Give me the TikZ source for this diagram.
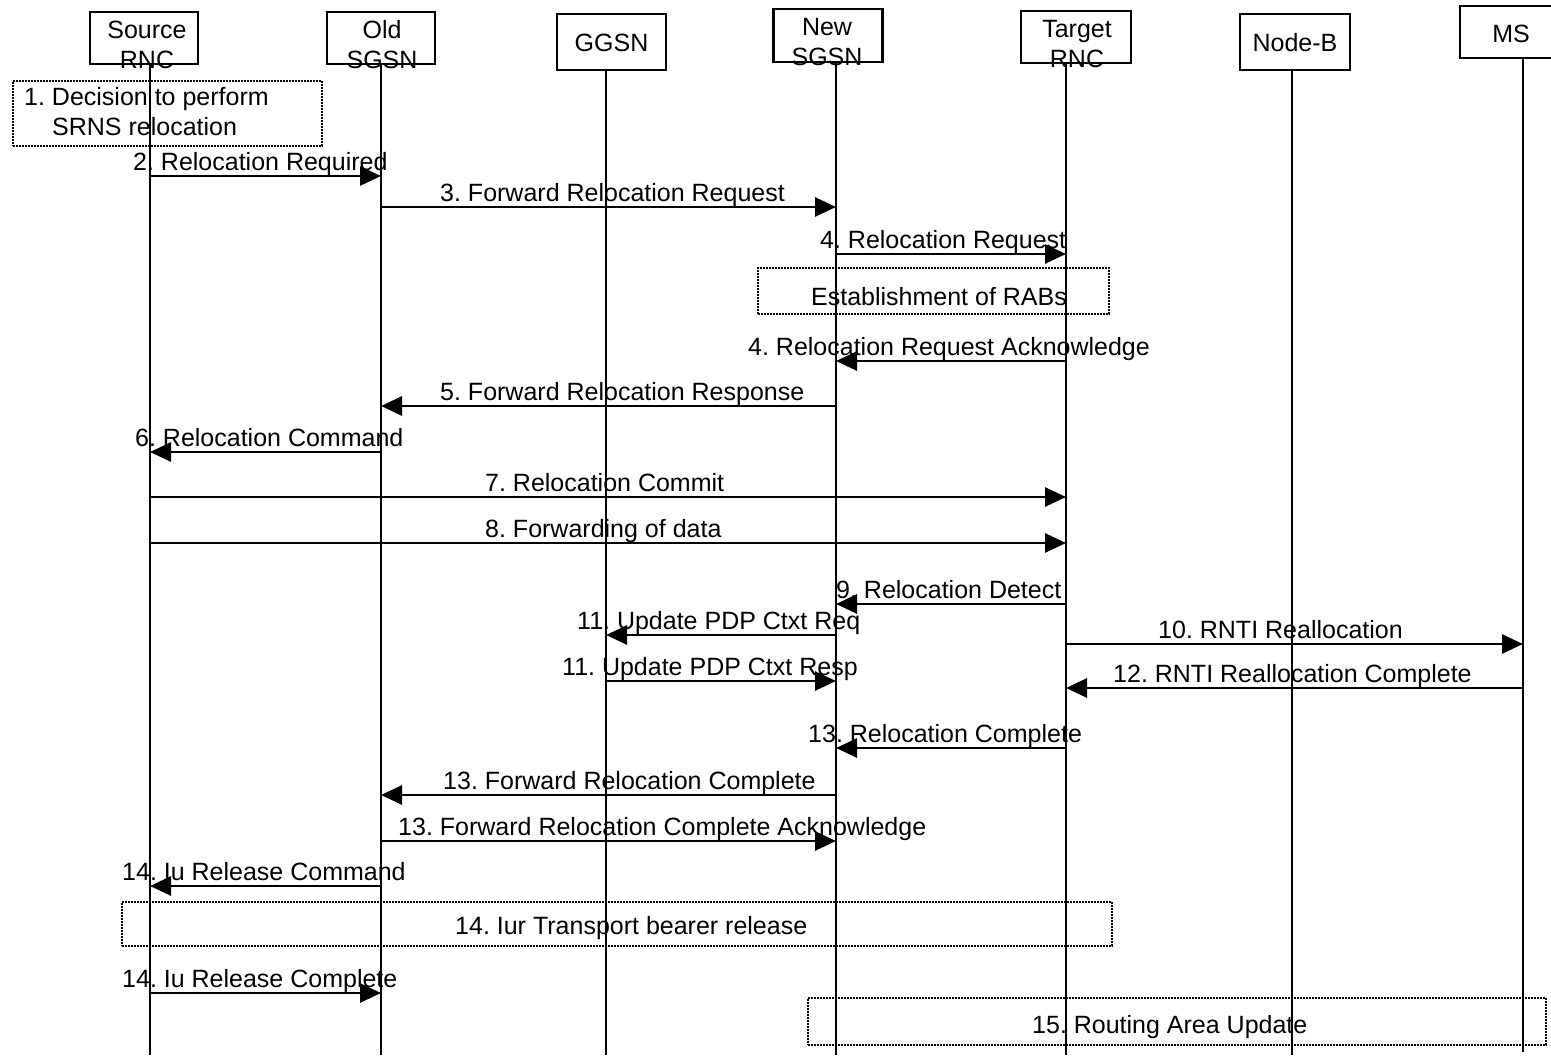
\documentclass[tikz,border=0pt]{standalone}
\usepackage{fontspec}
\setmainfont{Liberation Sans}
\usetikzlibrary{arrows.meta}
\frenchspacing
\begin{document}
\begin{tikzpicture}[x=1pt,y=-1pt,
  font=\fontsize{25}{30}\selectfont\frenchspacing,
  hdr/.style={draw, line width=2.6pt, inner sep=0pt},
  htxt/.style={anchor=base, inner sep=0pt},
  life/.style={line width=2.6pt},
  msg/.style={line width=2.8pt, -{Triangle[length=21pt,width=19pt]}},
  lbl/.style={anchor=base west, inner sep=0pt},
  note/.style={draw, line width=1.8pt, dash pattern=on 1.6pt off 1.4pt, inner sep=0pt}]
\useasboundingbox (0,0) rectangle (1551,1060);

% lifeline x positions
\coordinate (Lsrc) at (150,0);
\coordinate (Lold) at (381,0);
\coordinate (Lggsn) at (606,0);
\coordinate (Lnew) at (836,0);
\coordinate (Ltgt) at (1066,0);
\coordinate (Lnb) at (1292,0);
\coordinate (Lms) at (1523,0);
\coordinate (bot) at (0,1055);

% header boxes
\node[hdr, minimum width=108pt, minimum height=52pt] (src) at (144,38) {};
\node[htxt] (srcA) at (147,38) {Source};
\node[htxt] (srcB) at (147,68) {RNC};
\node[hdr, minimum width=108pt, minimum height=52pt] (old) at (381,38) {};
\node[htxt] (oldA) at (382,38) {Old};
\node[htxt] (oldB) at (382,68) {SGSN};
\node[hdr, minimum width=109pt, minimum height=56pt] (ggsn) at (611.5,42) {};
\node[htxt] (ggsnA) at (611.5,51) {GGSN};
\node[hdr, minimum width=109pt, minimum height=53pt] (new) at (828,35.5) {};
\node[htxt] (newA) at (827,35) {New};
\node[htxt] (newB) at (827,65) {SGSN};
\node[hdr, minimum width=110pt, minimum height=52pt] (tgt) at (1076,37) {};
\node[htxt] (tgtA) at (1077,37) {Target};
\node[htxt] (tgtB) at (1077,67) {RNC};
\node[hdr, minimum width=110pt, minimum height=56pt] (nb) at (1295,42) {};
\node[htxt] (nbA) at (1295,51) {Node-B};
\node[hdr, minimum width=110pt, minimum height=52pt] (ms) at (1515,32) {};
\node[htxt] (msA) at (1511,42) {MS};

% lifelines
\draw[life] (Lsrc |- src.south) -- (Lsrc |- bot);
\draw[life] (Lold |- old.south) -- (Lold |- bot);
\draw[life] (Lggsn |- ggsn.south) -- (Lggsn |- bot);
\draw[life] (Lnew |- new.south) -- (Lnew |- bot);
\draw[life] (Ltgt |- tgt.south) -- (Ltgt |- bot);
\draw[life] (Lnb |- nb.south) -- (Lnb |- bot);
\draw[life] (Lms |- ms.south) -- (Lms |- {(0,1052)});

% 1. decision box
\node[note, minimum width=309pt, minimum height=65pt] (n1) at (167.5,113.5) {};
\node[lbl] (n1a) at (24,105) {1. Decision to perform};
\node[lbl] (n1b) at (52,135) {SRNS relocation};

% message rows
\coordinate (r2) at (0,176);
\coordinate (r3) at (0,207);
\coordinate (r4) at (0,254);
\coordinate (r4a) at (0,361);
\coordinate (r5) at (0,406);
\coordinate (r6) at (0,452);
\coordinate (r7) at (0,497);
\coordinate (r8) at (0,543);
\coordinate (r9) at (0,604);
\coordinate (r11a) at (0,635);
\coordinate (r10) at (0,644);
\coordinate (r11b) at (0,681);
\coordinate (r12) at (0,688);
\coordinate (r13a) at (0,748);
\coordinate (r13b) at (0,795);
\coordinate (r13c) at (0,841);
\coordinate (r14a) at (0,886);
\coordinate (r14b) at (0,993);

\draw[msg] (Lsrc |- r2) -- (Lold |- r2);
\node[lbl] (t2) at (133,170) {2. Relocation Required};
\draw[msg] (Lold |- r3) -- (Lnew |- r3);
\node[lbl] (t3) at (440,201) {3. Forward Relocation Request};
\draw[msg] (Lnew |- r4) -- (Ltgt |- r4);
\node[lbl] (t4) at (820,248) {4. Relocation Request};

\node[note, minimum width=351pt, minimum height=46pt] (rab) at (933.5,291) {};
\node[htxt] (rabt) at (939,305) {Establishment of RABs};

\draw[msg] (Ltgt |- r4a) -- (Lnew |- r4a);
\node[lbl] (t4a) at (748,355) {4. Relocation Request Acknowledge};
\draw[msg] (Lnew |- r5) -- (Lold |- r5);
\node[lbl] (t5) at (440,400) {5. Forward Relocation Response};
\draw[msg] (Lold |- r6) -- (Lsrc |- r6);
\node[lbl] (t6) at (135,446) {6. Relocation Command};
\draw[msg] (Lsrc |- r7) -- (Ltgt |- r7);
\node[lbl] (t7) at (485,491) {7. Relocation Commit};
\draw[msg] (Lsrc |- r8) -- (Ltgt |- r8);
\node[lbl] (t8) at (485,537) {8. Forwarding of data};
\draw[msg] (Ltgt |- r9) -- (Lnew |- r9);
\node[lbl] (t9) at (836,598) {9. Relocation Detect};
\draw[msg] (Lnew |- r11a) -- (Lggsn |- r11a);
\node[lbl] (t11a) at (577,629) {11. Update PDP Ctxt Req};
\draw[msg] (Ltgt |- r10) -- (Lms |- r10);
\node[lbl] (t10) at (1158,638) {10. RNTI Reallocation};
\draw[msg] (Lggsn |- r11b) -- (Lnew |- r11b);
\node[lbl] (t11b) at (562,675) {11. Update PDP Ctxt Resp};
\draw[msg] (Lms |- r12) -- (Ltgt |- r12);
\node[lbl] (t12) at (1113,682) {12. RNTI Reallocation Complete};
\draw[msg] (Ltgt |- r13a) -- (Lnew |- r13a);
\node[lbl] (t13a) at (808,742) {13. Relocation Complete};
\draw[msg] (Lnew |- r13b) -- (Lold |- r13b);
\node[lbl] (t13b) at (443,789) {13. Forward Relocation Complete};
\draw[msg] (Lold |- r13c) -- (Lnew |- r13c);
\node[lbl] (t13c) at (398,835) {13. Forward Relocation Complete Acknowledge};
\draw[msg] (Lold |- r14a) -- (Lsrc |- r14a);
\node[lbl] (t14a) at (122,880) {14. Iu Release Command};

\node[note, minimum width=990pt, minimum height=44pt] (iur) at (617,924) {};
\node[lbl] (iurt) at (455,934) {14. Iur Transport bearer release};

\draw[msg] (Lsrc |- r14b) -- (Lold |- r14b);
\node[lbl] (t14b) at (122,987) {14. Iu Release Complete};

\node[note, minimum width=738pt, minimum height=47pt] (rau) at (1177,1021.5) {};
\node[lbl] (raut) at (1032,1033) {15. Routing Area Update};
\end{tikzpicture}
\end{document}
